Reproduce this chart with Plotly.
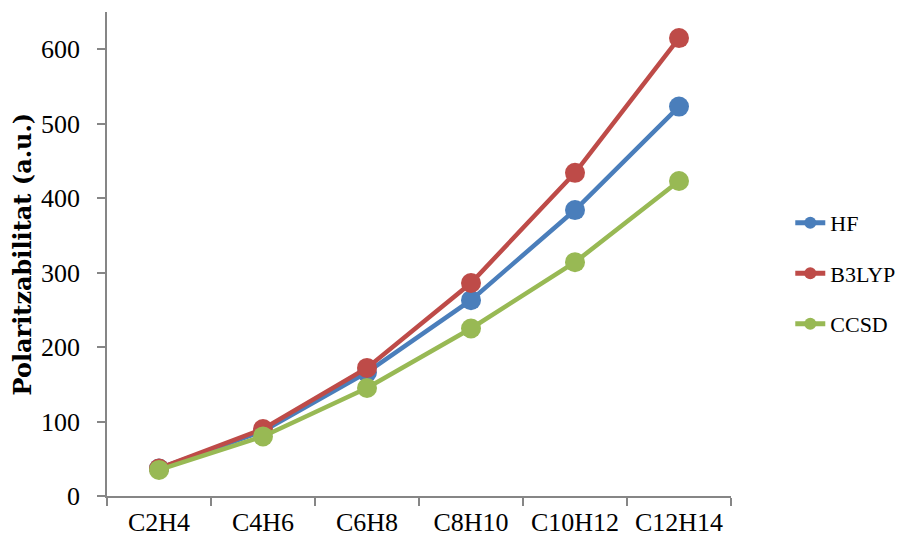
import plotly.graph_objects as go

# Static polarizabilities (a.u.) of linear polyenes
molecules = ["C2H4", "C4H6", "C6H8", "C8H10", "C10H12", "C12H14"]
hf = [37, 87, 166, 263, 384, 523]
b3lyp = [37, 90, 172, 286, 434, 615]
ccsd = [35, 80, 145, 225, 314, 423]
y_ticks = [0, 100, 200, 300, 400, 500, 600]

series = [
    ("HF", hf, "#4a7ebb"),
    ("B3LYP", b3lyp, "#be4b48"),
    ("CCSD", ccsd, "#98b954"),
]

font_family = "Liberation Serif, Times New Roman, serif"
title_family = "DejaVu Serif, serif"
axis_grey = "#868686"

fig = go.Figure()
for name, vals, color in series:
    fig.add_trace(go.Scatter(
        x=molecules, y=vals, name=name, legendgroup=name,
        mode="lines+markers",
        line=dict(color=color, width=4.5),
        marker=dict(color=color, size=20, line=dict(width=0)),
    ))

fig.update_layout(
    width=906, height=538,
    margin=dict(l=107, r=175, t=12, b=42, autoexpand=False),
    paper_bgcolor="white", plot_bgcolor="white",
    font=dict(family=font_family, size=26, color="black"),
    showlegend=True,
    legend=dict(
        x=1.095, y=0.46, xanchor="left", yanchor="middle",
        font=dict(family=font_family, size=22, color="black"),
        tracegroupgap=19, itemsizing="constant",
        bgcolor="rgba(0,0,0,0)",
    ),
    xaxis=dict(
        type="category", range=[-0.5, 5.5], automargin=False,
        showline=True, linecolor=axis_grey, linewidth=1.5,
        ticks="outside", tickson="boundaries", ticklen=8,
        tickcolor=axis_grey, tickwidth=1.5,
        showgrid=False, zeroline=False,
        ticklabelstandoff=2,
        tickfont=dict(family=font_family, size=26),
    ),
    yaxis=dict(
        range=[0, 650], tickvals=y_ticks, automargin=False,
        showline=True, linecolor=axis_grey, linewidth=1.5,
        ticks="outside", ticklen=8, tickcolor=axis_grey, tickwidth=1.5,
        showgrid=False, zeroline=False,
        ticklabelstandoff=12,
        tickfont=dict(family=font_family, size=26),
    ),
    annotations=[dict(
        text="<b>Polaritzabilitat (a.u.)</b>",
        xref="paper", yref="paper", x=-0.137, y=0.50,
        xanchor="center", yanchor="middle", textangle=-90,
        showarrow=False,
        font=dict(family=title_family, size=24, color="black"),
    )],
)

fig.write_html("out.html")
